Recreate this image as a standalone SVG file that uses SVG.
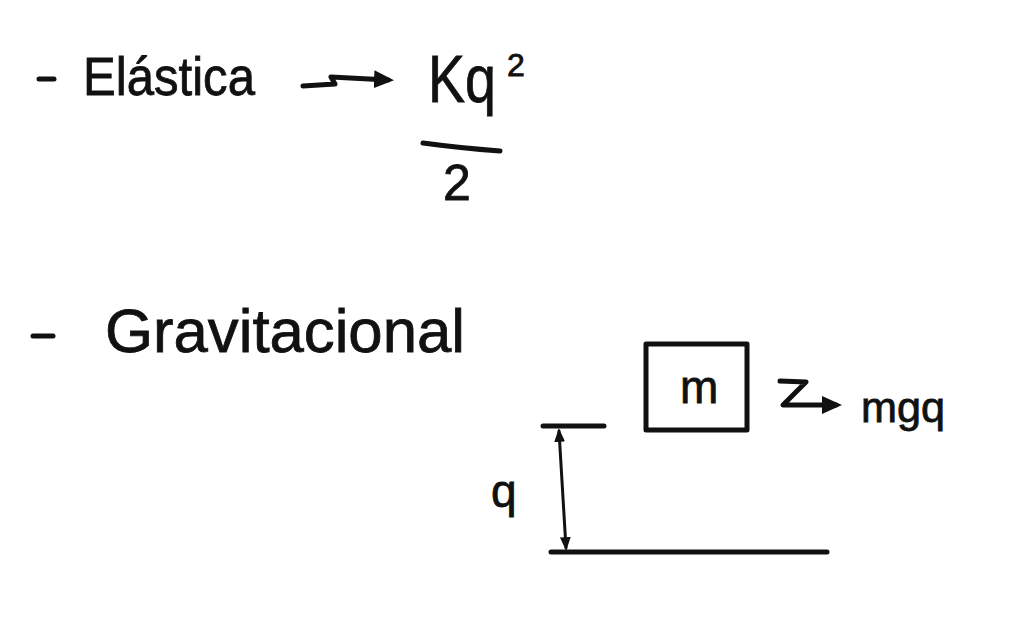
<svg xmlns="http://www.w3.org/2000/svg" width="1015" height="618" viewBox="0 0 1015 618">
  <style>
    .t { font-family: "Liberation Sans", "DejaVu Sans", sans-serif; fill: #111; stroke: #111; stroke-width: 0.8; }
    .s { fill: none; stroke: #111; stroke-width: 5; stroke-linecap: round; stroke-linejoin: round; }
    .thin { fill: none; stroke: #111; stroke-width: 3; stroke-linecap: round; }
  </style>
  <defs>
    <marker id="ah" viewBox="0 0 10 10" refX="7" refY="5" markerWidth="4" markerHeight="4" orient="auto-start-reverse" markerUnits="strokeWidth">
      <path d="M0,0.5 L10,5 L0,9.5 z" fill="#111"/>
    </marker>
    <marker id="ahs" viewBox="0 0 10 10" refX="8" refY="5" markerWidth="4.5" markerHeight="4.5" orient="auto-start-reverse" markerUnits="strokeWidth">
      <path d="M0,1 L10,5 L0,9 z" fill="#111"/>
    </marker>
  </defs>
  <rect width="1015" height="618" fill="#fff"/>

  <g id="elastica">
    <line class="s" x1="39" y1="79" x2="54" y2="79"/>
    <text class="t" x="83" y="95" font-size="54" textLength="172" lengthAdjust="spacingAndGlyphs">Elástica</text>
  </g>

  <g id="formula-elastica">
    <text class="t" x="428" y="102" font-size="66" textLength="68" lengthAdjust="spacingAndGlyphs">Kq</text>
    <text class="t" x="507" y="76" font-size="32">2</text>
    <path class="s" d="M423 143 Q460 148 500 151"/>
    <text class="t" x="443" y="200" font-size="50">2</text>
  </g>

  <g id="gravitacional">
    <line class="s" x1="33" y1="336" x2="53" y2="336"/>
    <text class="t" x="105" y="352" font-size="62" textLength="360" lengthAdjust="spacingAndGlyphs">Gravitacional</text>
  </g>

  <g id="mass-box">
    <rect class="s" x="646" y="344" width="101" height="86"/>
    <text class="t" x="680" y="403" font-size="46">m</text>
  </g>

  <g id="mgq">
    <text class="t" x="861" y="422" font-size="42" textLength="84" lengthAdjust="spacingAndGlyphs">mgq</text>
  </g>

  <g id="height-label">
    <text class="t" x="491" y="507" font-size="46">q</text>
  </g>

  <g id="levels">
    <line class="s" x1="543" y1="426" x2="604" y2="426"/>
    <line class="s" x1="551" y1="552" x2="827" y2="552"/>
  </g>

  <g id="connectors">
    <path class="s" d="M303 86 L335 84 L331 77 L388 80" marker-end="url(#ah)"/>
    <path class="s" d="M780 381 L806 382 L783 405 L836 405" marker-end="url(#ah)"/>
    <path class="thin" d="M559 431 L566 548" marker-start="url(#ahs)" marker-end="url(#ahs)"/>
  </g>
</svg>
